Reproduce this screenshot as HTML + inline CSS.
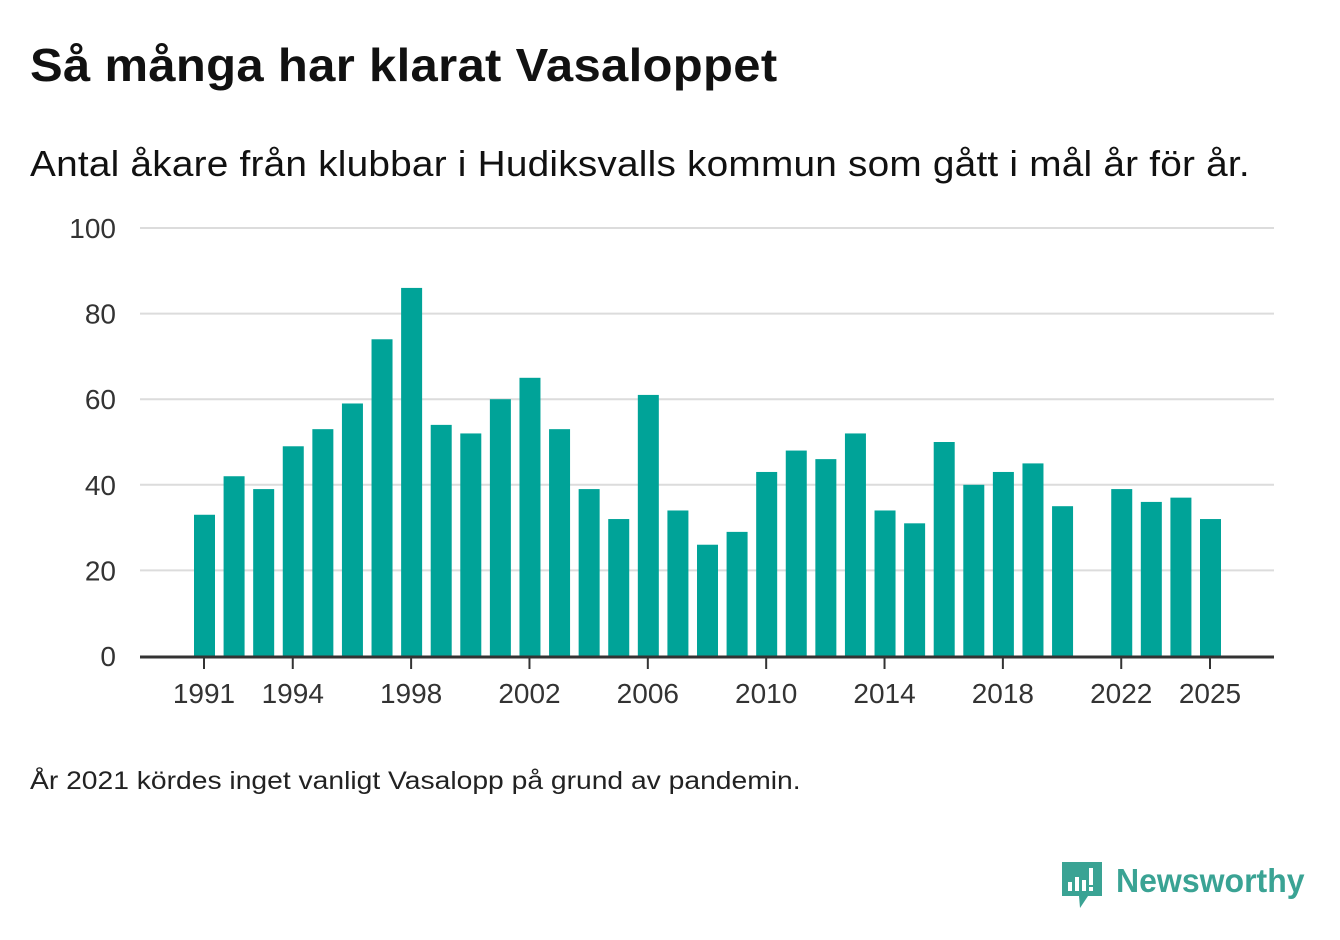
<!DOCTYPE html>
<html><head><meta charset="utf-8"><style>
body{margin:0;width:1340px;height:940px;background:#fff;font-family:"Liberation Sans",sans-serif;color:#111;position:relative;overflow:hidden}
.t{position:absolute;white-space:nowrap;transform-origin:0 0}
</style></head><body>
<div class="t" style="left:30px;top:38px;font-size:46px;font-weight:bold;letter-spacing:0.3px;transform:scaleX(1.065)">Så många har klarat Vasaloppet</div>
<div class="t" style="left:30px;top:143px;font-size:36px;letter-spacing:0.2px;transform:scaleX(1.077)">Antal åkare från klubbar i Hudiksvalls kommun som gått i mål år för år.</div>
<svg id="chart" width="1340" height="740" style="position:absolute;left:0;top:0"></svg>
<div class="t" style="left:30px;top:767px;font-size:25px;color:#222;transform:scaleX(1.13)">År 2021 kördes inget vanligt Vasalopp på grund av pandemin.</div>
<div style="position:absolute;left:1062px;top:862px">
<svg width="40" height="48"><path d="M0 0H40V34H26L18 46L17 34H0Z" fill="#3aa394"/><rect x="6" y="20" width="4" height="9" fill="#fff"/><rect x="13" y="15" width="4" height="14" fill="#fff"/><rect x="20" y="18" width="4" height="11" fill="#fff"/><rect x="27" y="6" width="4" height="17" fill="#fff"/><rect x="27" y="25" width="4" height="4" fill="#fff"/></svg>
<div class="t" style="left:54px;top:0px;font-size:33px;font-weight:bold;color:#3aa394;transform:scaleX(0.97)">Newsworthy</div>
</div>
<script>
const years=[1991,1992,1993,1994,1995,1996,1997,1998,1999,2000,2001,2002,2003,2004,2005,2006,2007,2008,2009,2010,2011,2012,2013,2014,2015,2016,2017,2018,2019,2020,2021,2022,2023,2024,2025];
const values=[33,42,39,49,53,59,74,86,54,52,60,65,53,39,32,61,34,26,29,43,48,46,52,34,31,50,40,43,45,35,null,39,36,37,32];
const yTicks=[0,20,40,60,80,100];
const xTickYears=[1991,1994,1998,2002,2006,2010,2014,2018,2022,2025];
const svg=document.getElementById('chart');
const NS='http://www.w3.org/2000/svg';
const x0=140,x1=1274,yBase=656,yTop=228;
const step=(1210-204)/34;
const x=yr=>204+(yr-years[0])*step;
const y=v=>yBase-(v/100)*(yBase-yTop);
function mk(t,a){const e=document.createElementNS(NS,t);for(const k in a)e.setAttribute(k,a[k]);svg.appendChild(e);return e;}
yTicks.forEach(v=>{
 if(v>0){const g=mk('line',{x1:x0,x2:x1,y1:y(v),y2:y(v),stroke:'#dcdcdc','stroke-width':2});
 
 }
 const t=mk('text',{x:116,y:y(v)+10,'text-anchor':'end','font-size':28,fill:'#333','font-family':'Liberation Sans, sans-serif'});
 t.textContent=v;
 
 
});
years.forEach((yr,i)=>{
 const v=values[i]; if(v==null)return;
 const r=mk('rect',{x:x(yr)-10,y:y(v),width:21,height:yBase-y(v),fill:'#00a398'});
 
 
});
const ax=mk('line',{x1:x0,x2:x1,y1:yBase+1,y2:yBase+1,stroke:'#333','stroke-width':3});


xTickYears.forEach(yr=>{
 const tk=mk('line',{x1:x(yr),x2:x(yr),y1:yBase,y2:yBase+13,stroke:'#333','stroke-width':2});
 
 
 const t=mk('text',{x:x(yr),y:703,'text-anchor':'middle','font-size':28,fill:'#333','font-family':'Liberation Sans, sans-serif'});
 t.textContent=yr;
 
 
});
</script>
</body></html>
